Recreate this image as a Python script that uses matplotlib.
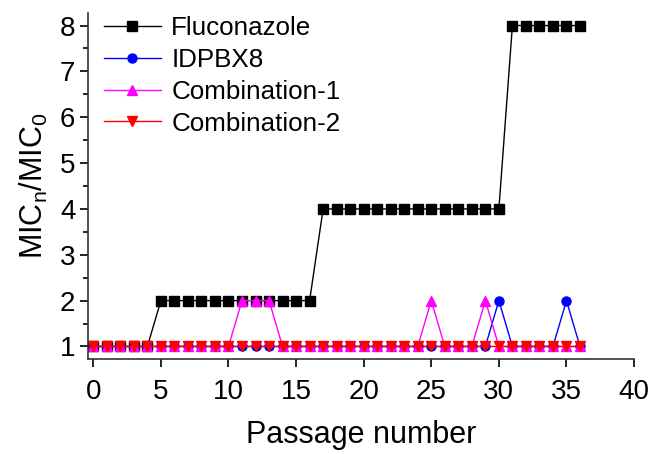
import matplotlib
matplotlib.use("Agg")
from matplotlib import pyplot as plt
from matplotlib.ticker import MultipleLocator

plt.rcParams['font.family'] = ['Liberation Sans', 'DejaVu Sans']

passage = list(range(0, 37))

# MIC_n / MIC_0 per passage
fluconazole = [1]*5 + [2]*12 + [4]*14 + [8]*6
idpbx8 = [1]*30 + [2] + [1]*4 + [2] + [1]
comb_1 = [1]*11 + [2, 2, 2] + [1]*11 + [2] + [1]*3 + [2] + [1]*7
comb_2 = [1]*37

fig = plt.figure(figsize=(6.51, 4.54), dpi=100)
ax = fig.add_axes([0.135, 0.2086, 0.839, 0.7634])

ax.plot(passage, fluconazole, color='black', lw=1, marker='s', ms=6.5, label='Fluconazole')
ax.plot(passage, idpbx8, color='blue', lw=1, marker='o', ms=6.5, label='IDPBX8')
ax.plot(passage, comb_1, color='magenta', lw=1, marker='^', ms=7.5, label='Combination-1')
ax.plot(passage, comb_2, color='red', lw=1, marker='v', ms=7.5, label='Combination-2')

ax.set_xlim(-0.4, 40)
ax.set_ylim(0.72, 8.28)
ax.xaxis.set_major_locator(MultipleLocator(5))
ax.yaxis.set_major_locator(MultipleLocator(1))
ax.yaxis.set_minor_locator(MultipleLocator(0.5))

for s in ['top', 'right']:
    ax.spines[s].set_visible(False)
for s in ['left', 'bottom']:
    ax.spines[s].set_linewidth(1.2)
    ax.spines[s].set_color('#333333')

ax.tick_params(which='major', direction='out', length=6, width=1.2, labelsize=20, pad=3)
ax.tick_params(axis='x', which='major', pad=8)
ax.tick_params(which='minor', direction='out', length=3.5, width=1.2)

ax.set_xlabel('Passage number', fontsize=22, labelpad=11)
ax.set_ylabel(r'MIC$_\mathregular{n}$/MIC$_\mathregular{0}$', fontsize=22, labelpad=7)

ax.legend(loc='upper left', frameon=False, fontsize=18.7, handlelength=2.2,
          handletextpad=0.4, labelspacing=0.3, borderaxespad=0.0,
          bbox_to_anchor=(0.01, 1.02))

fig.savefig('out.png', dpi=100)
